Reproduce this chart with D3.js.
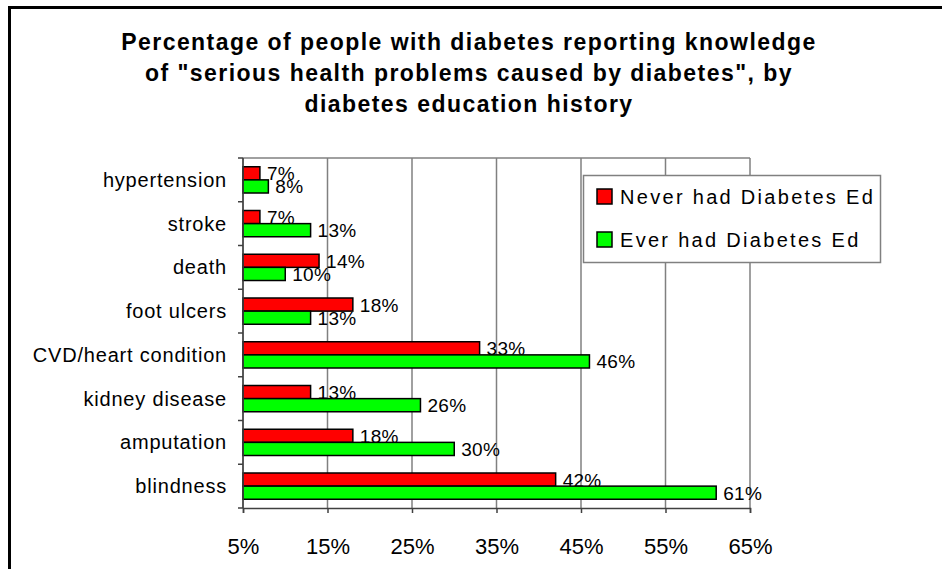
<!DOCTYPE html>
<html>
<head>
<meta charset="utf-8">
<script src="https://cdn.jsdelivr.net/npm/d3@7"></script>
<style>
  html, body { margin: 0; padding: 0; background: #fff; }
  svg { display: block; font-family: Arial, "Liberation Sans", sans-serif; }
</style>
</head>
<body>
<svg id="chart" width="942" height="569"></svg>
<script>
// Health problems named by respondents, top to bottom
const categories = ["hypertension", "stroke", "death", "foot ulcers",
  "CVD/heart condition", "kidney disease", "amputation", "blindness"];
const seriesNames = ["Never had Diabetes Ed", "Ever had Diabetes Ed"];
const neverHadEd = [7, 7, 14, 18, 33, 13, 18, 42];
const everHadEd  = [8, 13, 10, 13, 46, 26, 30, 61];
const tickValues = [5, 15, 25, 35, 45, 55, 65];
const titleLines = [
  "Percentage of people with diabetes reporting knowledge",
  "of \"serious health problems caused by diabetes\", by",
  "diabetes education history"
];

const colors = ["#ff0000", "#00ff00"];
const series = [neverHadEd, everHadEd];

const svg = d3.select("#chart");

// Frame around the whole chart (only its top and left edges fall inside the view)
svg.append("rect")
  .attr("x", 9.5).attr("y", 7.5)
  .attr("width", 1000).attr("height", 600)
  .attr("fill", "none").attr("stroke", "#000").attr("stroke-width", 3);

// Title
svg.append("g").selectAll("text").data(titleLines).join("text")
  .attr("x", 469).attr("y", (d, i) => 50 + i * 31)
  .attr("text-anchor", "middle")
  .attr("font-weight", "bold").attr("font-size", 23)
  .attr("letter-spacing", 1.45)
  .text(d => d);

const plot = { left: 243, right: 750, top: 158, bottom: 508 };

const x = d3.scaleLinear().domain([5, 65]).range([plot.left, plot.right]);
const y = d3.scaleBand().domain(categories)
  .range([plot.top, plot.bottom]).paddingInner(0.4).paddingOuter(0.2);
const ySub = d3.scaleBand().domain([0, 1]).range([0, y.bandwidth()]);

// Vertical gridlines and top edge of the plot area
svg.append("g").selectAll("line").data(tickValues).join("line")
  .attr("x1", d => x(d)).attr("x2", d => x(d))
  .attr("y1", plot.top).attr("y2", plot.bottom)
  .attr("stroke", "#808080").attr("stroke-width", 1.5);
svg.append("line")
  .attr("x1", plot.left).attr("x2", plot.right)
  .attr("y1", plot.top).attr("y2", plot.top)
  .attr("stroke", "#808080").attr("stroke-width", 1.5);

// Bars and value labels, one series at a time
series.forEach((vals, s) => {
  const g = svg.append("g");
  g.selectAll("rect").data(vals).join("rect")
    .attr("x", x(5))
    .attr("y", (d, i) => y(categories[i]) + ySub(s))
    .attr("width", d => x(d) - x(5))
    .attr("height", ySub.bandwidth())
    .attr("fill", colors[s])
    .attr("stroke", "#000").attr("stroke-width", 1.5);
  g.selectAll("text").data(vals).join("text")
    .attr("x", d => x(d) + 7)
    .attr("y", (d, i) => y(categories[i]) + ySub(s) + ySub.bandwidth() / 2 + 7)
    .attr("font-size", 19).attr("letter-spacing", 0.3)
    .text(d => d + "%");
});

// Category axis
const yAxis = svg.append("g");
yAxis.append("line")
  .attr("x1", plot.left).attr("x2", plot.left)
  .attr("y1", plot.top).attr("y2", plot.bottom)
  .attr("stroke", "#404040").attr("stroke-width", 1.5);
yAxis.selectAll("line.tick").data(d3.range(categories.length + 1)).join("line")
  .attr("class", "tick")
  .attr("x1", plot.left - 5).attr("x2", plot.left)
  .attr("y1", i => plot.top + i * y.step())
  .attr("y2", i => plot.top + i * y.step())
  .attr("stroke", "#404040").attr("stroke-width", 1.5);
yAxis.selectAll("text").data(categories).join("text")
  .attr("x", 227)
  .attr("y", d => y(d) + y.bandwidth() / 2 + 7)
  .attr("text-anchor", "end").attr("font-size", 20)
  .attr("letter-spacing", 0.8)
  .text(d => d);

// Value axis
const xAxis = svg.append("g")
  .attr("transform", `translate(0,${plot.bottom})`)
  .call(d3.axisBottom(x).tickValues(tickValues).tickFormat(d => d + "%")
    .tickSize(5).tickPadding(25));
xAxis.select(".domain").attr("stroke", "#404040").attr("stroke-width", 1.5);
xAxis.selectAll(".tick line").attr("stroke", "#404040").attr("stroke-width", 1.5);
xAxis.selectAll(".tick text")
  .attr("font-size", 22).attr("font-family", "Arial, 'Liberation Sans', sans-serif")
  .attr("fill", "#000");

// Legend
const legend = svg.append("g");
legend.append("rect")
  .attr("x", 583.5).attr("y", 175.5).attr("width", 297).attr("height", 87)
  .attr("fill", "#fff").attr("stroke", "#808080").attr("stroke-width", 1.5);
const item = legend.selectAll("g").data(seriesNames).join("g")
  .attr("transform", (d, i) => `translate(597,${189 + i * 43})`);
item.append("rect")
  .attr("width", 15).attr("height", 15)
  .attr("fill", (d, i) => colors[i])
  .attr("stroke", "#000").attr("stroke-width", 1.5);
item.append("text")
  .attr("x", 23).attr("y", 15)
  .attr("font-size", 20).attr("letter-spacing", 2.3)
  .text(d => d);
</script>
</body>
</html>
